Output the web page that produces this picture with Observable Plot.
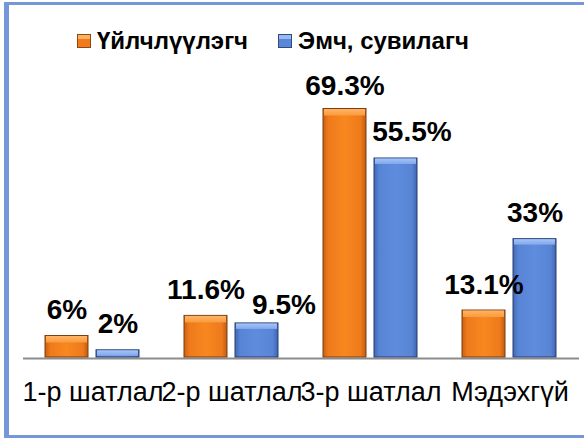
<!DOCTYPE html>
<html>
<head>
<meta charset="utf-8">
<script src="https://cdn.jsdelivr.net/npm/d3@7"></script>
<script src="https://cdn.jsdelivr.net/npm/@observablehq/plot@0.6"></script>
<style>
  html, body { margin: 0; padding: 0; background: #fff; }
  body { width: 584px; height: 438px; overflow: hidden; position: relative;
         font-family: "Liberation Sans", Arial, sans-serif; color: #000; }
  #frame { position: absolute; left: 4px; top: 2px; width: 600px; height: 436px; box-sizing: border-box;
           border-top: 3px solid #7497da; border-left: 5px solid #7497da; border-bottom: 3px solid #7497da;
           pointer-events: none; }
  #legend { box-sizing: border-box; height: 62px; padding-top: 20px; padding-left: 77px;
            display: flex; align-items: center; font-weight: bold; font-size: 24px; }
  .sw { width: 12px; height: 12px; margin-right: 6px; flex: none; }
  .sw.o { background: linear-gradient(#ffb060 0 35%, #f27a1c 35%); border: 1px solid #8a4a14; }
  .sw.b { background: linear-gradient(#98baf3 0 35%, #5a86d8 35%); border: 1px solid #2f4a80; }
  .item { display: flex; align-items: center; white-space: nowrap; }
  #chart svg { display: block; }
</style>
</head>
<body>
<div id="legend"></div>
<div id="chart"></div>
<div id="frame"></div>
<script>
const categories = ["1-р шатлал", "2-р шатлал", "3-р шатлал", "Мэдэхгүй"];
const seriesNames = ["Үйлчлүүлэгч", "Эмч, сувилагч"];
const clientValues = [6, 11.6, 69.3, 13.1];
const staffValues = [2, 9.5, 55.5, 33];

const data = categories.flatMap((c, i) => [
  {cat: c, series: seriesNames[0], value: clientValues[i]},
  {cat: c, series: seriesNames[1], value: staffValues[i]}
]);
const dataO = data.filter(d => d.series === seriesNames[0]);
const dataB = data.filter(d => d.series === seriesNames[1]);

// legend
const legend = document.getElementById("legend");
legend.innerHTML =
  `<div class="item"><div class="sw o"></div><span>${seriesNames[0]}</span></div>` +
  `<div class="item" style="margin-left:30px"><div class="sw b"></div><span>${seriesNames[1]}</span></div>`;

const fmt = d => `${d.value}%`;
const isNudgedA = d => d.cat === categories[1] && d.series === seriesNames[1];
const isNudgedB = d => d.cat === categories[2] && d.series === seriesNames[1];
const isNudgedC = d => d.cat === categories[2] && d.series === seriesNames[0];
const general = data.filter(d => !isNudgedA(d) && !isNudgedB(d) && !isNudgedC(d));

const labelStyle = {fx: "cat", x: "series", y: "value", text: fmt, fontSize: 28, fontWeight: "bold",
                    lineAnchor: "bottom", fill: "#000"};

const chart = Plot.plot({
  width: 584,
  height: 376,
  marginTop: 44,
  marginBottom: 81,
  marginLeft: 22,
  marginRight: 5,
  fx: {domain: categories, padding: 0, label: null},
  x: {domain: seriesNames, paddingInner: 0.154, paddingOuter: 0.414, axis: null},
  y: {domain: [0, 70], axis: null},
  style: {fontFamily: "'Liberation Sans', Arial, sans-serif", background: "transparent", color: "#000", overflow: "visible"},
  marks: [
    Plot.axisFx({anchor: "bottom", tickSize: 0, tickPadding: 24, fontSize: 27, label: null, fill: "#000"}),
    Plot.ruleY([0], {stroke: "#8c8c8c", strokeWidth: 2, dy: 1}),
    Plot.barY(dataO, {fx: "cat", x: "series", y: "value", fill: "url(#gO)", stroke: "#7a3e10", strokeWidth: 1}),
    Plot.barY(dataB, {fx: "cat", x: "series", y: "value", fill: "url(#gB)", stroke: "#263f70", strokeWidth: 1}),
    Plot.barY(dataO, {fx: "cat", x: "series", y1: "value", y2: "value", insetBottom: -7, insetLeft: 1, insetRight: 1, insetTop: 0.5, fill: "url(#tO)"}),
    Plot.barY(dataB, {fx: "cat", x: "series", y1: "value", y2: "value", insetBottom: -6, insetLeft: 1, insetRight: 1, insetTop: 0.5, fill: "url(#tB)"}),
    Plot.text(general, {...labelStyle, dy: -17}),
    Plot.text(data.filter(isNudgedA), {...labelStyle, dx: 27, dy: -9}),
    Plot.text(data.filter(isNudgedB), {...labelStyle, dx: 16, dy: -17}),
    Plot.text(data.filter(isNudgedC), {...labelStyle, dy: -14})
  ]
});

d3.select(chart).insert("defs", ":first-child").html(`
  <linearGradient id="gO" x1="0" x2="1" y1="0" y2="0">
    <stop offset="0" stop-color="#c9600f"/>
    <stop offset="0.12" stop-color="#ee7a1c"/>
    <stop offset="0.5" stop-color="#f8871f"/>
    <stop offset="0.88" stop-color="#ee7a1c"/>
    <stop offset="1" stop-color="#c25b0f"/>
  </linearGradient>
  <linearGradient id="gB" x1="0" x2="1" y1="0" y2="0">
    <stop offset="0" stop-color="#4068b4"/>
    <stop offset="0.12" stop-color="#5884d6"/>
    <stop offset="0.5" stop-color="#5f8cdd"/>
    <stop offset="0.88" stop-color="#5884d6"/>
    <stop offset="1" stop-color="#3e64ae"/>
  </linearGradient>
  <linearGradient id="tO" x1="0" x2="0" y1="0" y2="1">
    <stop offset="0" stop-color="#ffb466"/>
    <stop offset="1" stop-color="#fb9a3c"/>
  </linearGradient>
  <linearGradient id="tB" x1="0" x2="0" y1="0" y2="1">
    <stop offset="0" stop-color="#a6c4f6"/>
    <stop offset="1" stop-color="#80a8ec"/>
  </linearGradient>
`);

document.getElementById("chart").appendChild(chart);
</script>
</body>
</html>
